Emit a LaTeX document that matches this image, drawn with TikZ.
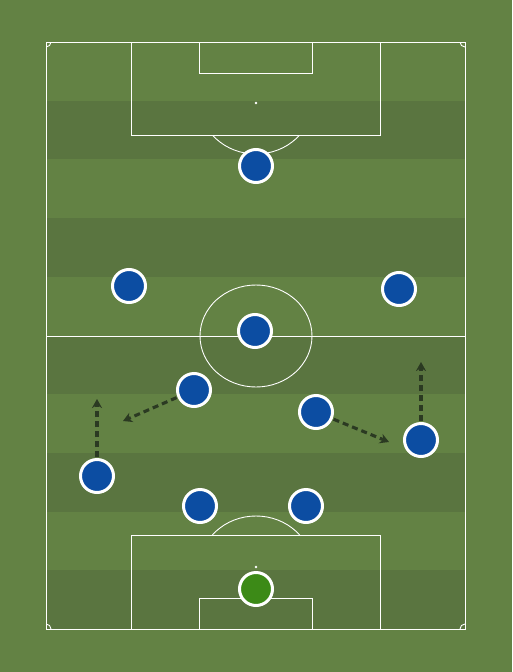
\documentclass[tikz,border=0pt]{standalone}
\usetikzlibrary{arrows.meta}
\definecolor{pitchlight}{HTML}{638244}
\definecolor{pitchdark}{HTML}{5A7540}
\definecolor{playerblue}{HTML}{0C4DA2}
\definecolor{keepergreen}{HTML}{3C8A17}
\definecolor{movecol}{HTML}{2B3A22}
\tikzset{
  pitchline/.style={draw=white, line width=0.9pt},
  player/.style={circle, fill=playerblue, draw=white, line width=3pt, minimum size=33pt, inner sep=0pt},
  keeper/.style={player, fill=keepergreen},
  move/.style={draw=movecol, line width=3.1pt, dash pattern=on 6pt off 4pt, -{Stealth[length=9pt,width=10pt]}, shorten <=1pt}
}
\begin{document}
\begin{tikzpicture}[x=1pt,y=-1pt]
\useasboundingbox (0,0) rectangle (512,672);
\fill[pitchlight] (0,0) rectangle (512,672);
\foreach \i in {1,3,5,7,9}
  \fill[pitchdark] (46,{42+\i*58.7}) rectangle (465,{42+(\i+1)*58.7});
% outer lines
\draw[pitchline] (46,42) rectangle (465,629);
\draw[pitchline] (46,336) -- (465,336);
% top penalty area
\draw[pitchline] (131,42) rectangle (380,135);
\draw[pitchline] (199,42) rectangle (312,73);
\fill[white] (256,103) circle (1.3);
\begin{scope}
  \clip (0,135) rectangle (512,300);
  \draw[pitchline] (256,103) ellipse [x radius=56, y radius=51];
\end{scope}
% bottom penalty area
\draw[pitchline] (131,535) rectangle (380,629);
\draw[pitchline] (199,598) rectangle (312,629);
\fill[white] (256,567) circle (1.3);
\begin{scope}
  \clip (0,400) rectangle (512,535);
  \draw[pitchline] (256,567) ellipse [x radius=56, y radius=51];
\end{scope}
% centre circle
\draw[pitchline] (256,336) ellipse [x radius=56, y radius=51];
% corner arcs
\begin{scope}
  \clip (46,42) rectangle (465,629);
  \foreach \cx/\cy in {46/42,465/42,46/629,465/629}
    \draw[pitchline] (\cx,\cy) circle (5);
\end{scope}
% players
\node[player] (p1) at (256,166) {};
\node[player] (p2) at (129,286) {};
\node[player] (p3) at (399,289) {};
\node[player] (p4) at (255,331) {};
\node[player] (p5) at (194,390) {};
\node[player] (p6) at (316,412) {};
\node[player] (p7) at (421,440) {};
\node[player] (p8) at (97,476) {};
\node[player] (p9) at (200,506) {};
\node[player] (p10) at (306,506) {};
\node[keeper] (gk) at (256,589) {};
% movement arrows
\coordinate (a1) at (97,399);
\coordinate (a2) at (123,421);
\coordinate (a3) at (389,442);
\coordinate (a4) at (421,362);
\draw[move] (p8) -- (a1);
\draw[move] (p5) -- (a2);
\draw[move] (p6) -- (a3);
\draw[move] (p7) -- (a4);
\end{tikzpicture}
\end{document}
